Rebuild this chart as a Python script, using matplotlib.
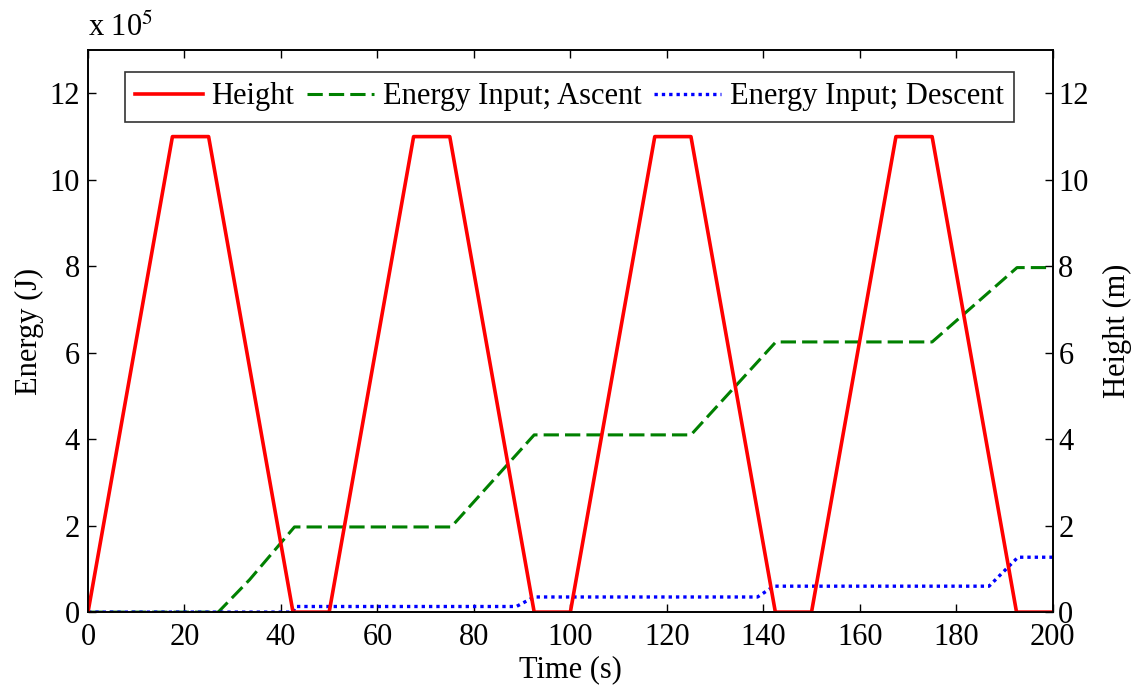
import matplotlib
matplotlib.use("Agg")
import matplotlib.pyplot as plt
from matplotlib.ticker import FuncFormatter

plt.rcParams["font.family"] = ["Liberation Serif", "DejaVu Serif"]
plt.rcParams["font.size"] = 22
plt.rcParams["mathtext.fontset"] = "stix"

# height profile (m) - trapezoidal lift cycles
height_t = [0, 17.5, 25, 42.5, 50, 67.5, 75, 92.5, 100, 117.5, 125, 142.5,
            150, 167.5, 175, 192.5, 200]
height_m = [0, 11, 11, 0, 0, 11, 11, 0, 0, 11, 11, 0, 0, 11, 11, 0, 0]

# cumulative energy input during ascent (J)
ascent_t = [0, 27, 33.5, 42.8, 75.3, 92.5, 125, 142.6, 175, 192.6, 200]
ascent_e = [0, 0, 0.75e5, 1.97e5, 1.97e5, 4.1e5, 4.1e5, 6.25e5, 6.25e5, 7.97e5, 7.97e5]

# cumulative energy input during descent (J)
descent_t = [0, 42.5, 43, 88.8, 92.5, 138.8, 142.2, 186.8, 192.8, 200]
descent_e = [0, 0, 0.13e5, 0.13e5, 0.35e5, 0.35e5, 0.6e5, 0.6e5, 1.27e5, 1.27e5]

fig = plt.figure(figsize=(11.43, 6.87), dpi=100)
ax = fig.add_axes([0.077, 0.109, 0.844, 0.818])
ax2 = ax.twinx()

l_asc, = ax.plot(ascent_t, ascent_e, color="#008000", ls=(0, (5, 2)), lw=2.2,
                 label="Energy Input; Ascent")
l_des, = ax.plot(descent_t, descent_e, color="#0000ff", ls=(0, (1, 1.2)), lw=2.4,
                 label="Energy Input; Descent")
l_h, = ax2.plot(height_t, height_m, color="#ff0000", lw=2.6, label="Height")

ax.set_xlim(0, 200)
ax.set_ylim(0, 13e5)
ax2.set_ylim(0, 13)
ax.set_xticks(range(0, 201, 20))
ax.set_yticks([i * 2e5 for i in range(7)])
ax2.set_yticks(range(0, 13, 2))
ax.yaxis.set_major_formatter(FuncFormatter(lambda v, p: f"{v / 1e5:g}"))

ax.tick_params(direction="in", length=6, top=True, right=False, width=1)
ax2.tick_params(direction="in", length=6, width=1, pad=4)
ax.tick_params(axis="x", pad=8)
ax.tick_params(axis="y", pad=6)

ax.set_xlabel("Time (s)", labelpad=2)
ax.set_ylabel("Energy (J)", labelpad=4)
ax2.set_ylabel("Height (m)", labelpad=10)
ax.text(0, 1.012, r"x 10$^5$", transform=ax.transAxes, ha="left", va="bottom",
        fontsize=22)

for a in (ax, ax2):
    for s in a.spines.values():
        s.set_linewidth(1.2)

leg = ax2.legend([l_h, l_asc, l_des],
                 ["Height", "Energy Input; Ascent", "Energy Input; Descent"],
                 ncol=3, loc="upper left", bbox_to_anchor=(0.038, 0.962),
                 frameon=True, fancybox=False, edgecolor="black",
                 handlelength=2.2, handletextpad=0.28, columnspacing=0.42,
                 borderpad=0.35, borderaxespad=0)
leg.get_frame().set_linewidth(1.2)

fig.savefig("out.png", dpi=100)
